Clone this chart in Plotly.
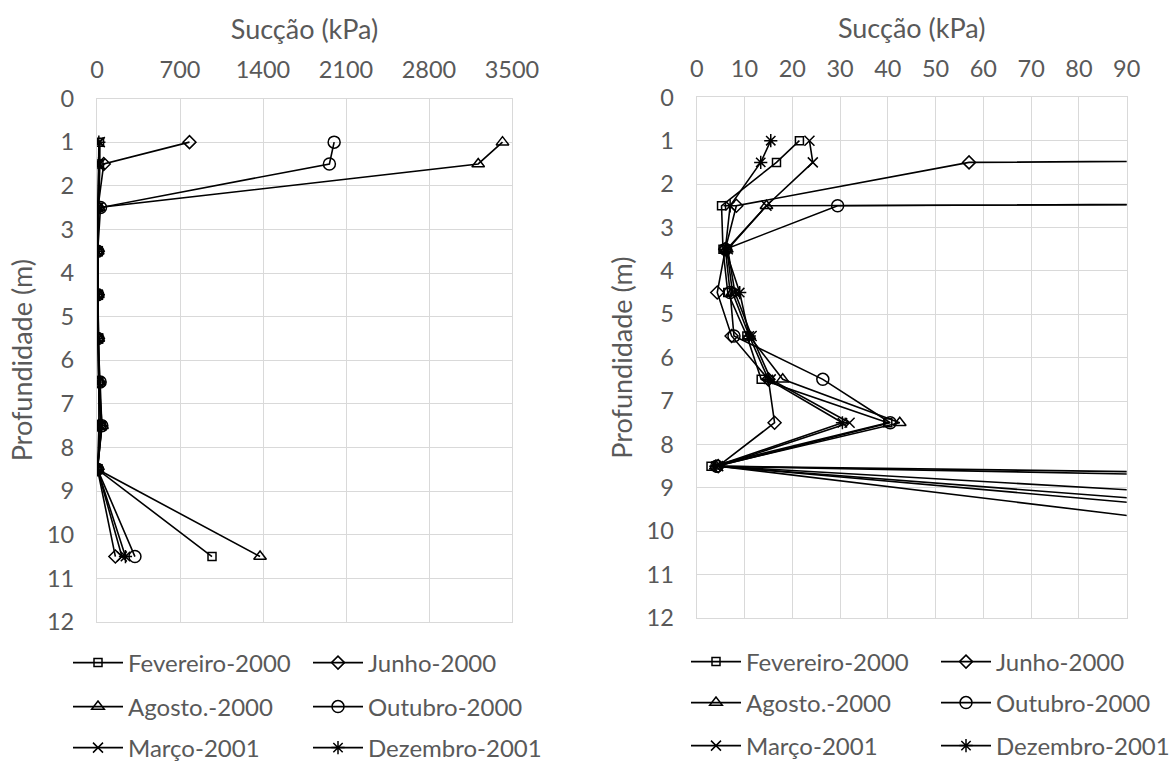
import plotly.graph_objects as go

# ---------------- data ----------------
depths = [1, 1.5, 2.5, 3.5, 4.5, 5.5, 6.5, 7.5, 8.5, 10.5]

series_names = ["Fevereiro-2000", "Junho-2000", "Agosto.-2000",
                "Outubro-2000", "Março-2001", "Dezembro-2001"]

fevereiro_2000 = [21.5, 16.7, 5.2, 5.5, 6.5, 10.5, 13.5, 40.0, 3.0, 970]
junho_2000 = [780, 57.0, 8.3, 6.0, 4.3, 7.3, 15.0, 16.3, 4.5, 155]
agosto_2000 = [3420, 3215, 14.6, 6.3, 7.5, 11.0, 18.0, 42.5, 4.0, 1375]
outubro_2000 = [2000, 1960, 29.5, 6.0, 7.0, 7.8, 26.4, 40.5, 4.2, 320]
marco_2001 = [23.6, 24.3, 14.6, 6.5, 8.0, 11.5, 15.5, 32.0, 4.5, 210]
dezembro_2001 = [15.5, 13.4, 7.0, 6.0, 9.0, 11.0, 15.0, 30.5, 4.0, 240]

left_x_ticks = [0, 700, 1400, 2100, 2800, 3500]
right_x_ticks = [0, 10, 20, 30, 40, 50, 60, 70, 80, 90]
y_ticks = list(range(0, 13))

x_title = "Sucção (kPa)"
y_title = "Profundidade (m)"

# ---------------- styles ----------------
values = [fevereiro_2000, junho_2000, agosto_2000, outubro_2000, marco_2001, dezembro_2001]
symbols = ["square-open", "diamond-open", "triangle-up-open",
           "circle-open", "x-thin-open", "asterisk-open"]
sizes = [8, 10, 11, 12, 10, 11]

FONT = "Lato"
TXT = "#595959"
GRID = "#d9d9d9"

fig = go.Figure()

left_legends = ["legend", "legend", "legend2", "legend2", "legend3", "legend3"]
right_legends = ["legend4", "legend4", "legend5", "legend5", "legend6", "legend6"]

for axes, legs in ((("x", "y"), left_legends), (("x2", "y2"), right_legends)):
    for name, vals, sym, sz, lg in zip(series_names, values, symbols, sizes, legs):
        fig.add_trace(go.Scatter(
            x=vals, y=depths, name=name, mode="lines+markers",
            xaxis=axes[0], yaxis=axes[1], legend=lg,
            line=dict(color="black", width=1.6),
            marker=dict(symbol=sym, size=sz, color="black",
                        line=dict(color="black", width=1.5)),
        ))

W, H = 1175, 763

def px_x(a, b):
    return [a / W, b / W]

def px_y(top, bottom):
    return [1 - bottom / H, 1 - top / H]

axis_common = dict(
    showgrid=True, gridcolor=GRID, gridwidth=1.3,
    showline=True, linecolor=GRID, linewidth=1.3, mirror=True,
    zeroline=False, ticks="",
    tickfont=dict(family=FONT, size=23.5, color=TXT),
)
title_font = dict(family=FONT, size=27, color=TXT)

fig.update_layout(
    width=W, height=H,
    margin=dict(l=0, r=0, t=0, b=0, autoexpand=False),
    paper_bgcolor="white", plot_bgcolor="white",
    font=dict(family=FONT, color=TXT),
    xaxis=dict(domain=px_x(97, 512), range=[0, 3500], tickvals=left_x_ticks,
               side="top", anchor="y", ticklabelstandoff=10,
               title=dict(text=x_title, font=title_font, standoff=7),
               **axis_common),
    yaxis=dict(domain=px_y(98.5, 622), range=[12, 0], tickvals=y_ticks, anchor="x",
               ticklabelstandoff=17,
               title=dict(text=y_title, font=title_font, standoff=6),
               **axis_common),
    xaxis2=dict(domain=px_x(696.7, 1126.7), range=[0, 90], tickvals=right_x_ticks,
                side="top", anchor="y2", ticklabelstandoff=10,
                title=dict(text=x_title, font=title_font, standoff=7),
                **axis_common),
    yaxis2=dict(domain=px_y(97.3, 618), range=[12, 0], tickvals=y_ticks, anchor="x2",
                ticklabelstandoff=17,
                title=dict(text=y_title, font=title_font, standoff=6),
                **axis_common),
)

leg_common = dict(orientation="h", xanchor="left", yanchor="middle",
                  font=dict(family=FONT, size=24, color=TXT),
                  bgcolor="rgba(0,0,0,0)", itemwidth=50,
                  entrywidthmode="pixels", traceorder="normal")

left_rows = [663, 707, 748]
right_rows = [662, 703, 746]
LX, RX = 68, 686
fig.update_layout(
    legend=dict(x=LX / W, y=1 - left_rows[0] / H, entrywidth=175, **leg_common),
    legend2=dict(x=LX / W, y=1 - left_rows[1] / H, entrywidth=175, **leg_common),
    legend3=dict(x=LX / W, y=1 - left_rows[2] / H, entrywidth=175, **leg_common),
    legend4=dict(x=RX / W, y=1 - right_rows[0] / H, entrywidth=185, **leg_common),
    legend5=dict(x=RX / W, y=1 - right_rows[1] / H, entrywidth=185, **leg_common),
    legend6=dict(x=RX / W, y=1 - right_rows[2] / H, entrywidth=185, **leg_common),
)

fig.write_html("out.html")
